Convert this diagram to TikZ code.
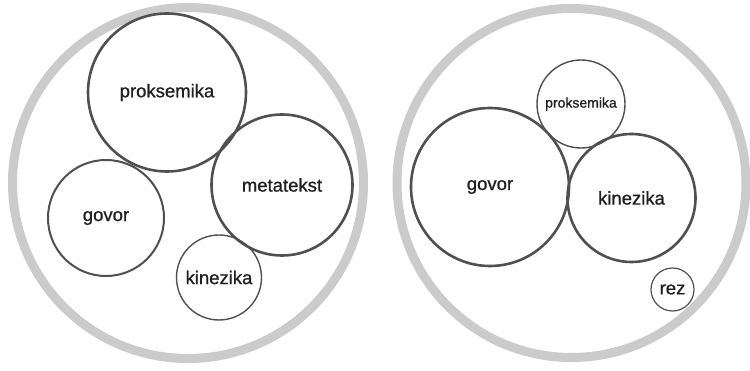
\documentclass[tikz,border=0pt]{standalone}
\usepackage{fontspec}
\setmainfont{Liberation Sans}
\newfontfamily\labelfont[FakeBold=0.9]{Liberation Sans}
\definecolor{ringgray}{HTML}{CBCBCB}
\definecolor{edgegray}{HTML}{505050}
\definecolor{inkgray}{HTML}{202020}
\begin{document}
\begin{tikzpicture}[x=1pt,y=-1pt,
  ring/.style={draw=ringgray, line width=9pt, circle, inner sep=0pt, minimum size=#1},
  bubble/.style={draw=edgegray, circle, inner sep=0pt, minimum size=#1,
    text=inkgray, font=\labelfont\fontsize{18.5}{20}\selectfont},
  heavy/.style={line width=2.6pt},
  medium/.style={line width=2pt},
  light/.style={line width=1.4pt}]
\useasboundingbox (0,0) rectangle (750,371);
\fill[white] (0,0) rectangle (750,371);

% outer groups
\node[ring=351pt] (groupL) at (188,183) {};
\node[ring=349pt] (groupR) at (571.5,183) {};

% left group
\node[bubble=158pt, heavy] (proksL) at (167,92.5) {proksemika};
\node[bubble=141pt, heavy] (metaL) at (282,185) {metatekst};
\node[bubble=116pt, medium] (govorL) at (106,218) {govor};
\node[bubble=85pt, light] (kinL) at (219,277.5) {kinezika};

% right group
\node[bubble=88pt, light, font=\labelfont\fontsize{14}{16}\selectfont] (proksR) at (581,104) {proksemika};
\node[bubble=158pt, heavy] (govorR) at (490,187) {govor};
\node[bubble=128pt, heavy] (kinR) at (631.5,198) {kinezika};
\node[bubble=43pt, line width=1.2pt] (rezR) at (672.5,289.5) {rez};
\end{tikzpicture}
\end{document}
